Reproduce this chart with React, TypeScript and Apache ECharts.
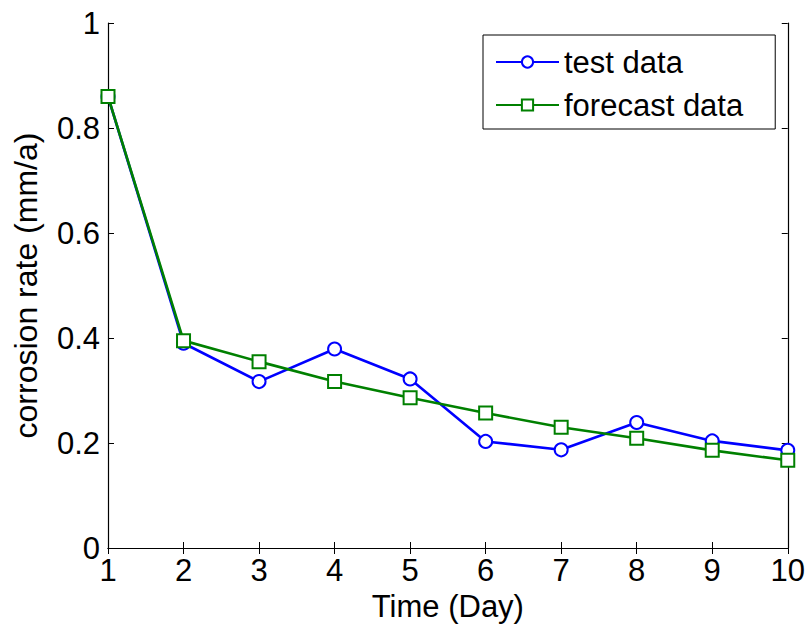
import React, { useEffect, useRef } from "react";
import * as echarts from "echarts";

const days = [1, 2, 3, 4, 5, 6, 7, 8, 9, 10];
const testData = [0.86, 0.39, 0.317, 0.379, 0.322, 0.203, 0.187, 0.239, 0.204, 0.186];
const forecastData = [0.86, 0.395, 0.355, 0.317, 0.286, 0.257, 0.23, 0.209, 0.186, 0.167];
const seriesNames = ["test data", "forecast data"];
const xName = "Time (Day)";
const yName = "corrosion rate (mm/a)";

const FONT = "'Liberation Sans', Arial, sans-serif";

export default function App() {
  const ref = useRef<HTMLDivElement>(null);
  useEffect(() => {
    if (!ref.current) return;
    const chart = echarts.init(ref.current, null, { renderer: "svg" });
    const axisCommon = {
      type: "value" as const,
      axisLine: { show: true, lineStyle: { color: "#000", width: 1.2 } },
      axisTick: { show: true, inside: true, length: 6, lineStyle: { color: "#000", width: 1 } },
      splitLine: { show: false },
    };
    chart.setOption({
      animation: false,
      backgroundColor: "#fff",
      textStyle: { fontFamily: FONT },
      grid: { left: 108, right: 19, top: 23, bottom: 80, containLabel: false },
      legend: {
        left: 483,
        top: 35,
        orient: "vertical",
        data: seriesNames,
        itemWidth: 63,
        itemHeight: 14,
        itemGap: 11,
        padding: [11, 32, 8, 12],
        borderColor: "#000",
        borderWidth: 1,
        backgroundColor: "#fff",
        textStyle: { fontSize: 31, color: "#000", fontFamily: FONT, lineHeight: 32 },
      },
      xAxis: [
        {
          ...axisCommon,
          position: "bottom",
          min: 1,
          max: 10,
          interval: 1,
          name: xName,
          nameLocation: "middle",
          nameGap: 35,
          nameTextStyle: { fontSize: 31, color: "#000", fontFamily: FONT },
          axisLabel: { fontSize: 31, color: "#000", margin: 7, fontFamily: FONT },
        },
        {
          ...axisCommon,
          position: "top",
          min: 1,
          max: 10,
          interval: 1,
          axisLabel: { show: false },
        },
      ],
      yAxis: [
        {
          ...axisCommon,
          position: "left",
          min: 0,
          max: 1,
          interval: 0.2,
          name: yName,
          nameLocation: "middle",
          nameGap: 66,
          nameTextStyle: { fontSize: 32, color: "#000", fontFamily: FONT },
          axisLabel: { fontSize: 31, color: "#000", margin: 8, fontFamily: FONT },
        },
        {
          ...axisCommon,
          position: "right",
          min: 0,
          max: 1,
          interval: 0.2,
          axisLabel: { show: false },
        },
      ],
      series: [
        {
          name: seriesNames[0],
          type: "line",
          data: days.map((d, i) => [d, testData[i]]),
          symbol: "emptyCircle",
          symbolSize: 13,
          color: "#0000ff",
          lineStyle: { color: "#0000ff", width: 2.6 },
          itemStyle: { color: "#0000ff", borderColor: "#0000ff", borderWidth: 2.6 },
        },
        {
          name: seriesNames[1],
          type: "line",
          data: days.map((d, i) => [d, forecastData[i]]),
          symbol: "emptyRect",
          symbolSize: 13,
          color: "#008000",
          lineStyle: { color: "#008000", width: 2.6 },
          itemStyle: { color: "#008000", borderColor: "#008000", borderWidth: 2.6 },
        },
      ],
    });
    return () => chart.dispose();
  }, []);
  return <div ref={ref} style={{ width: 808, height: 628, position: "absolute", left: 0, top: 0 }} />;
}
